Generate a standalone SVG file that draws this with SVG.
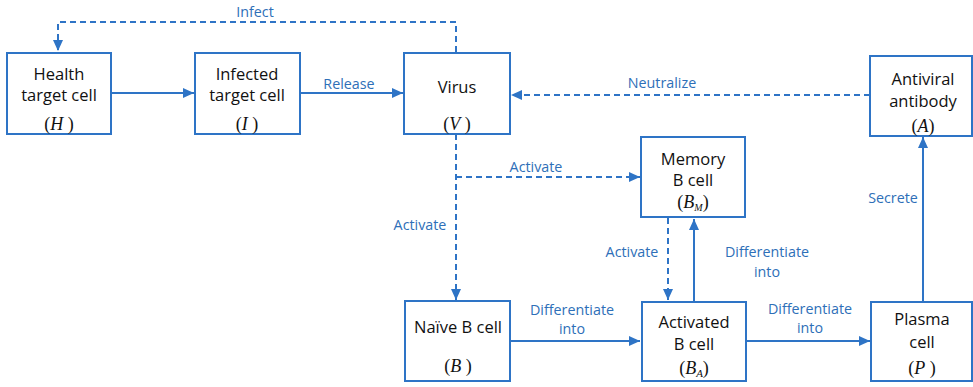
<svg xmlns="http://www.w3.org/2000/svg" width="973" height="387" viewBox="0 0 973 387">
<style>
.box{fill:#fff;stroke:#2E74C6;stroke-width:2}
.t{font-family:"Open Sans","Liberation Sans",sans-serif;font-size:16.5px;fill:#111;text-anchor:middle}
.v{font-family:"Liberation Serif",serif;font-size:18px;fill:#111;text-anchor:middle}
.it{font-style:italic}
.lb{font-family:"Open Sans","Liberation Sans",sans-serif;font-size:14.3px;fill:#2E6FB8;text-anchor:middle}
.c{fill:none;stroke:#2E74C6;stroke-width:2}
.d{stroke-dasharray:6,4}
</style>
<defs>
<marker id="ah" markerUnits="userSpaceOnUse" markerWidth="12" markerHeight="12" viewBox="0 0 12 12" refX="11" refY="6" orient="auto">
<path d="M0,1 L11,6 L0,11 Z" fill="#2E74C6"/>
</marker>
</defs>
<rect width="973" height="387" fill="#fff"/>
<g id="connectors">
<path class="c d" d="M456,52 V22 H58 V51" marker-end="url(#ah)"/>
<path class="c" d="M111,93 H194" marker-end="url(#ah)"/>
<path class="c" d="M300,93 H403" marker-end="url(#ah)"/>
<path class="c d" d="M870,95 H511" marker-end="url(#ah)"/>
<path class="c d" d="M456,134 V300" marker-end="url(#ah)"/>
<path class="c d" d="M456,177 H640" marker-end="url(#ah)"/>
<path class="c d" d="M668,218 V300" marker-end="url(#ah)"/>
<path class="c" d="M694,301 V219" marker-end="url(#ah)"/>
<path class="c" d="M510,341 H640" marker-end="url(#ah)"/>
<path class="c" d="M746,341 H870" marker-end="url(#ah)"/>
<path class="c" d="M923,301 V137" marker-end="url(#ah)"/>
<text class="lb" x="255" y="17">Infect</text>
<text class="lb" x="349" y="89">Release</text>
<text class="lb" x="662" y="88">Neutralize</text>
<text class="lb" x="536" y="172">Activate</text>
<text class="lb" x="420" y="230">Activate</text>
<text class="lb" x="632" y="257">Activate</text>
<text class="lb" x="767" y="257">Differentiate</text>
<text class="lb" x="767" y="277">into</text>
<text class="lb" x="893" y="203">Secrete</text>
<text class="lb" x="572" y="315">Differentiate</text>
<text class="lb" x="572" y="334">into</text>
<text class="lb" x="810" y="314">Differentiate</text>
<text class="lb" x="810" y="333">into</text>
</g>
<g id="health">
<rect class="box" x="7" y="53" width="104" height="81"/>
<text class="t" x="59" y="80">Health</text>
<text class="t" x="59" y="101">target cell</text>
<text class="v" x="59" y="130">(<tspan class="it">H</tspan> )</text>
</g>
<g id="infected">
<rect class="box" x="195" y="53" width="105" height="81"/>
<text class="t" x="247" y="80">Infected</text>
<text class="t" x="247" y="101">target cell</text>
<text class="v" x="247" y="130">(<tspan class="it">I</tspan> )</text>
</g>
<g id="virus">
<rect class="box" x="404" y="53" width="106" height="81"/>
<text class="t" x="457" y="93">Virus</text>
<text class="v" x="457" y="130">(<tspan class="it">V</tspan> )</text>
</g>
<g id="antibody">
<rect class="box" x="870" y="56" width="102" height="80"/>
<text class="t" x="923" y="85">Antiviral</text>
<text class="t" x="923" y="107">antibody</text>
<text class="v" x="923" y="132">(<tspan class="it">A</tspan>)</text>
</g>
<g id="memory">
<rect class="box" x="641" y="137" width="104" height="80"/>
<text class="t" x="693" y="165">Memory</text>
<text class="t" x="693" y="186">B cell</text>
<text class="v" x="693" y="208" font-size="16">(<tspan class="it">B</tspan><tspan class="it" font-size="10" dy="3">M</tspan><tspan dy="-3">)</tspan></text>
</g>
<g id="naive">
<rect class="box" x="405" y="301" width="105" height="80"/>
<text class="t" x="458" y="333">Naïve B cell</text>
<text class="v" x="458" y="372">(<tspan class="it">B</tspan> )</text>
</g>
<g id="activated">
<rect class="box" x="642" y="302" width="104" height="79"/>
<text class="t" x="694" y="328">Activated</text>
<text class="t" x="694" y="350">B cell</text>
<text class="v" x="694" y="374">(<tspan class="it">B</tspan><tspan class="it" font-size="11" dy="3">A</tspan><tspan dy="-3">)</tspan></text>
</g>
<g id="plasma">
<rect class="box" x="871" y="302" width="101" height="79"/>
<text class="t" x="922" y="325">Plasma</text>
<text class="t" x="922" y="348">cell</text>
<text class="v" x="922" y="374">(<tspan class="it">P</tspan> )</text>
</g>
</svg>
